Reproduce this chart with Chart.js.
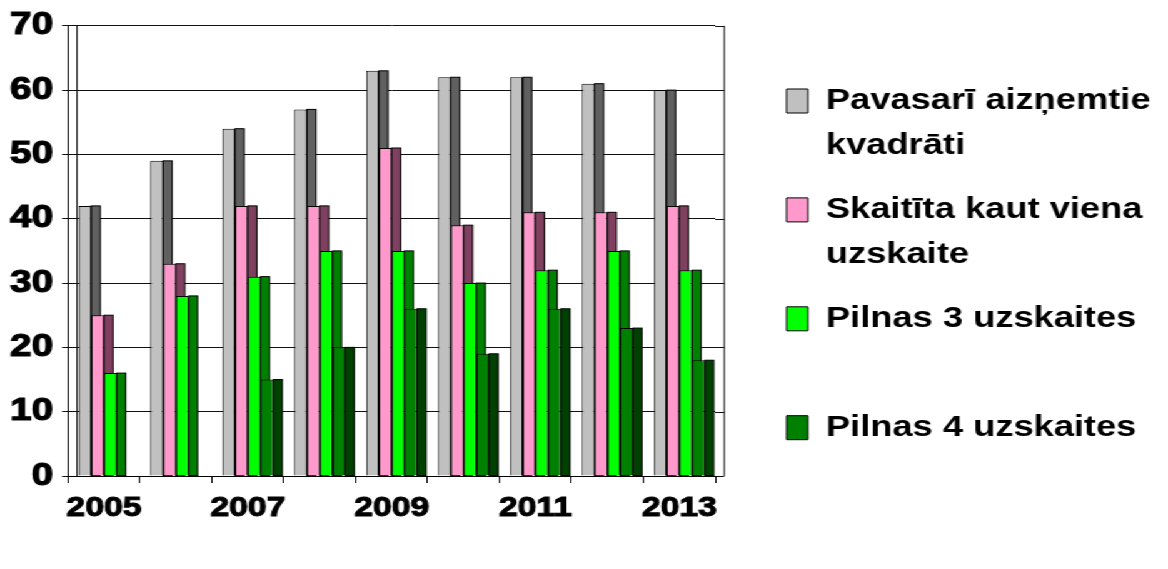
<!DOCTYPE html>
<html><head><meta charset="utf-8">
<script src="https://cdn.jsdelivr.net/npm/chart.js@4"></script>
<style>
html,body{margin:0;padding:0;background:#fff;overflow:hidden;}
#wrap{position:absolute;left:0;top:0;width:934px;height:569px;transform:scaleX(1.2505);transform-origin:0 0;background:#fff;}
</style></head><body>
<div id="wrap"><canvas id="c"></canvas></div>
<script>
const years = ['2005','2006','2007','2008','2009','2010','2011','2012','2013'];
const tickLabels = ['2005','','2007','','2009','','2011','','2013'];
const seriesNames = ['Pavasarī aizņemtie kvadrāti','Skaitīta kaut viena uzskaite','Pilnas 3 uzskaites','Pilnas 4 uzskaites'];
const legendLines = [['Pavasarī aizņemtie','kvadrāti'],['Skaitīta kaut viena','uzskaite'],['Pilnas 3 uzskaites',''],['Pilnas 4 uzskaites','']];
const occupied   = [42,49,54,57,63,62,62,61,60];
const countedOnce= [25,33,42,42,51,39,41,41,42];
const full3      = [16,28,31,35,35,30,32,35,32];
const full4      = [null,null,15,20,26,19,26,23,18];
const frontColors = ['#c0c0c0','#ff99cc','#00ff00','#008000'];
const sideColors  = ['#606060','#804060','#008000','#004000'];

const depth = 7.2;
const bar3d = {
  id: 'bar3d',
  afterLayout(chart) {
    if (chart.legend) {
      chart.legend.right = chart.width;
      chart.legend.width = chart.legend.right - chart.legend.left;
    }
  },
  beforeDatasetsDraw(chart) {
    const {ctx, chartArea: a, scales: {y}} = chart;
    ctx.save();
    ctx.strokeStyle = '#111'; ctx.lineWidth = 1;
    ctx.beginPath();
    y.ticks.forEach(t => {
      const py = Math.round(y.getPixelForValue(t.value)) + 0.5;
      ctx.moveTo(a.right, py); ctx.lineTo(a.right + depth, py);
    });
    ctx.moveTo(a.left + depth, a.top); ctx.lineTo(a.left + depth, a.bottom);
    ctx.moveTo(a.right + depth, a.top); ctx.lineTo(a.right + depth, a.bottom);
    ctx.stroke();
    chart.data.datasets.forEach((ds, i) => {
      const meta = chart.getDatasetMeta(i);
      meta.data.forEach((el, j) => {
        if (ds.data[j] == null) return;
        const x0 = el.x + el.width / 2;
        ctx.fillStyle = sideColors[i];
        ctx.fillRect(x0, el.y, depth, el.base - el.y);
        ctx.strokeStyle = '#000';
        ctx.strokeRect(x0, el.y, depth, el.base - el.y);
      });
    });
    ctx.restore();
  }
};

Chart.defaults.font.family = "'Liberation Sans', Arial, sans-serif";
Chart.defaults.color = '#000';

const seriesData = [occupied, countedOnce, full3, full4];
new Chart(document.getElementById('c'), {
  type: 'bar',
  data: {
    labels: years,
    datasets: seriesData.map((d, i) => ({
      label: seriesNames[i],
      data: d,
      backgroundColor: frontColors[i],
      borderColor: '#000',
      borderWidth: 1,
      categoryPercentage: 0.71,
      barPercentage: 1.0
    }))
  },
  options: {
    responsive: true,
    maintainAspectRatio: false,
    animation: false,
    layout: {padding: {top: 25, right: 224, bottom: 0, left: 0}},
    scales: {
      x: {
        offset: true,
        grid: {offset: true, drawOnChartArea: false, drawTicks: true, tickLength: 7, color: '#000'},
        border: {color: '#000'},
        ticks: {autoSkip: false, maxRotation: 0, minRotation: 0, padding: 9, color: '#000',
          textStrokeColor: '#000', textStrokeWidth: 1,
          font: {size: 27, weight: 'bold'},
          callback: (v, i) => tickLabels[i]},
        afterFit(s) { s.height = 93; }
      },
      y: {
        min: 0, max: 70,
        ticks: {stepSize: 10, padding: 7.2, color: '#000', textStrokeColor: '#000', textStrokeWidth: 1.2,
          font: {size: 31, weight: 'bold'}},
        grid: {color: '#111', tickLength: 4.8},
        border: {color: '#000'},
        afterFit(s) { s.width = 54.4; }
      },
      yR: {
        position: 'right', display: true,
        grid: {display: false, drawTicks: false},
        border: {display: false},
        ticks: {display: false},
        afterFit(s) { s.width = 38; }
      }
    },
    plugins: {
      tooltip: {enabled: false},
      legend: {
        position: 'right', align: 'start', maxWidth: 100,
        title: {display: true, text: ' ', padding: {top: 41.5, bottom: 0}, font: {size: 1, lineHeight: 1}},
        labels: {
          boxWidth: 17, boxHeight: 24, padding: 19, color: '#000', textAlign: 'left',
          font: {size: 29, weight: 'bold', lineHeight: 1.55},
          generateLabels(chart) {
            const items = Chart.defaults.plugins.legend.labels.generateLabels(chart);
            items.forEach((it, i) => { it.text = legendLines[i]; it.lineWidth = 1; it.strokeStyle = '#000'; });
            return items;
          }
        }
      }
    }
  },
  plugins: [bar3d]
});
</script>
</body></html>
